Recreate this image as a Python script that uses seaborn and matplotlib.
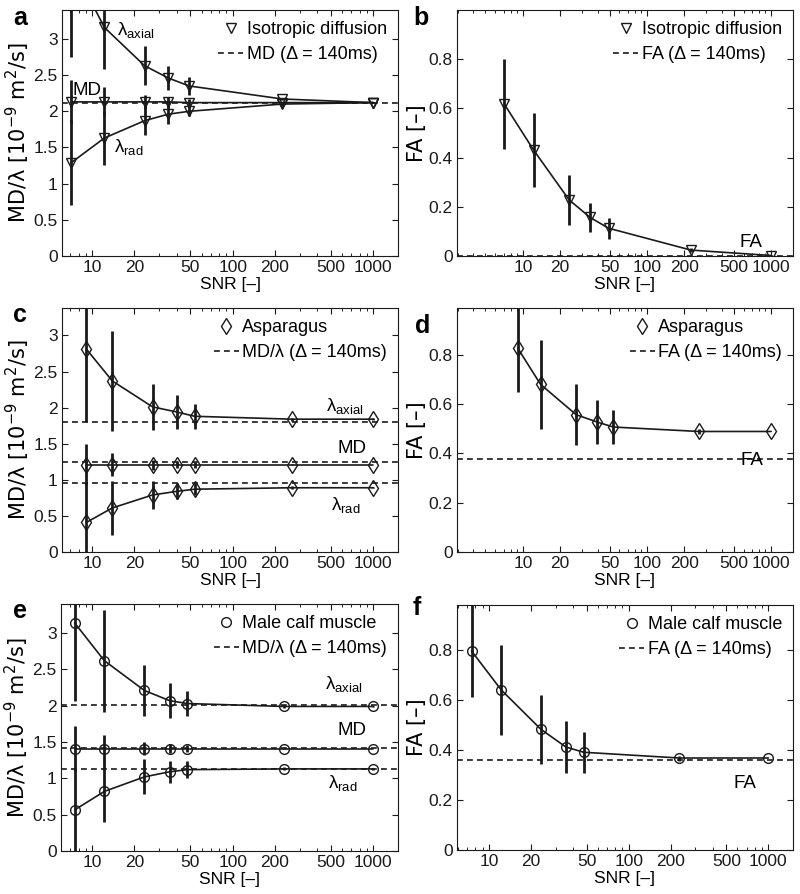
import numpy as np
import pandas as pd
import matplotlib
matplotlib.use("Agg")
import matplotlib.pyplot as plt
from matplotlib.lines import Line2D
from matplotlib.ticker import FixedLocator, FixedFormatter, LogLocator, NullFormatter, FormatStrFormatter
import seaborn as sns

# ---------------- data ----------------
snr_iso = [7.1, 12.2, 23.6, 34.8, 49, 226, 1000]
snr_asp = [9.1, 13.9, 26.9, 39.9, 53.6, 263, 1000]
snr_calf = [7.5, 12.2, 23.5, 35.5, 47.5, 230, 1000]

# isotropic diffusion (panel a, b)
iso_axial = [4.05, 3.16, 2.63, 2.46, 2.35, 2.17, 2.12]
iso_axial_sd = [1.30, 0.58, 0.27, 0.17, 0.12, 0.02, 0.01]
iso_md = [2.13, 2.13, 2.13, 2.13, 2.12, 2.12, 2.12]
iso_md_sd = [0.30, 0.20, 0.10, 0.07, 0.05, 0.01, 0.0]
iso_rad = [1.29, 1.63, 1.87, 1.96, 2.00, 2.10, 2.12]
iso_rad_sd = [0.59, 0.37, 0.20, 0.13, 0.07, 0.02, 0.01]
iso_ref_md = [2.12]
iso_fa = [0.617, 0.431, 0.228, 0.157, 0.113, 0.024, 0.002]
iso_fa_sd = [0.183, 0.150, 0.100, 0.060, 0.043, 0.008, 0.0]
iso_ref_fa = [0.0]

# asparagus (panel c, d)
asp_axial = [2.81, 2.37, 2.01, 1.94, 1.88, 1.84, 1.84]
asp_axial_sd = [1.01, 0.69, 0.32, 0.23, 0.17, 0.02, 0.01]
asp_md = [1.21, 1.21, 1.21, 1.21, 1.21, 1.21, 1.21]
asp_md_sd = [0.28, 0.16, 0.07, 0.05, 0.04, 0.01, 0.0]
asp_rad = [0.41, 0.61, 0.79, 0.84, 0.87, 0.89, 0.89]
asp_rad_sd = [0.56, 0.37, 0.20, 0.11, 0.08, 0.02, 0.01]
asp_ref = [1.80, 1.24, 0.955]
asp_fa = [0.827, 0.68, 0.557, 0.527, 0.507, 0.489, 0.489]
asp_fa_sd = [0.177, 0.18, 0.124, 0.09, 0.07, 0.01, 0.0]
asp_ref_fa = [0.378]

# male calf muscle (panel e, f)
calf_axial = [3.14, 2.62, 2.21, 2.07, 2.03, 1.99, 1.99]
calf_axial_sd = [1.08, 0.70, 0.35, 0.24, 0.17, 0.02, 0.01]
calf_md = [1.41, 1.41, 1.41, 1.41, 1.41, 1.41, 1.41]
calf_md_sd = [0.31, 0.19, 0.09, 0.06, 0.05, 0.01, 0.0]
calf_rad = [0.565, 0.82, 1.02, 1.09, 1.12, 1.13, 1.13]
calf_rad_sd = [0.56, 0.42, 0.24, 0.15, 0.12, 0.02, 0.01]
calf_ref = [2.01, 1.42, 1.135]
calf_fa = [0.796, 0.641, 0.483, 0.412, 0.391, 0.368, 0.368]
calf_fa_sd = [0.185, 0.18, 0.138, 0.105, 0.083, 0.01, 0.0]
calf_ref_fa = [0.362]

xticks = [10, 20, 50, 100, 200, 500, 1000]
xtick_labels = ["10", "20", "50", "100", "200", "500", "1000"]

# ---------------- style ----------------
sns.set_theme(style="ticks")
plt.rcParams["font.family"] = ["Liberation Sans", "DejaVu Sans"]
plt.rcParams["mathtext.fontset"] = "custom"
plt.rcParams["mathtext.rm"] = "Liberation Sans"
plt.rcParams["mathtext.it"] = "Liberation Sans:italic"
plt.rcParams["mathtext.default"] = "regular"
for key in ["text.color", "axes.labelcolor", "xtick.color", "ytick.color",
            "axes.edgecolor"]:
    plt.rcParams[key] = "black"
FS = 12.5
LFS = 13
YFS = 15

fig = plt.figure(figsize=(8.0, 8.94), dpi=100)
W, H = 800.0, 894.0


def add_axes(l, r, t, b):
    return fig.add_axes([l / W, 1 - b / H, (r - l) / W, (b - t) / H])


axA = add_axes(62, 398, 10, 256)
axB = add_axes(457, 793, 10, 256)
axC = add_axes(62, 398, 308, 552)
axD = add_axes(457, 793, 308, 552)
axE = add_axes(61, 398, 604, 851)
axF = add_axes(457, 793, 605, 850)

DASH = (0, (3.5, 2.5))


def draw_series(ax, x, y, sd, marker, ms):
    y = np.asarray(y)
    sd = np.asarray(sd)
    ax.vlines(x, y - sd, y + sd, colors="k", linewidth=2.0, zorder=2)
    sns.lineplot(x=x, y=y, ax=ax, color="k", linewidth=1.2, marker=marker,
                 markersize=ms, markerfacecolor="none", markeredgecolor="k",
                 markeredgewidth=1.0, zorder=3)


def style_axes(ax, xlim, ylim, yticks, ylabel):
    ax.set_xscale("log")
    ax.set_xlim(*xlim)
    ax.set_ylim(*ylim)
    ax.xaxis.set_major_locator(FixedLocator(xticks))
    ax.xaxis.set_major_formatter(FixedFormatter(xtick_labels))
    ax.xaxis.set_minor_locator(LogLocator(base=10, subs=np.arange(2, 10)))
    ax.xaxis.set_minor_formatter(NullFormatter())
    ax.set_yticks(yticks)
    ax.yaxis.set_major_formatter(FormatStrFormatter("%g"))
    ax.tick_params(axis="both", which="major", direction="in", length=4,
                   width=0.8, top=True, right=True, labelsize=FS, pad=3,
                   colors="k")
    ax.tick_params(axis="both", which="minor", direction="in", length=2,
                   width=0.6, top=True, right=True)
    for s in ax.spines.values():
        s.set_linewidth(0.8)
        s.set_color("k")
        s.set_visible(True)
    ax.set_xlabel("SNR [–]", fontsize=FS, labelpad=1)
    ax.set_ylabel(ylabel, fontsize=YFS, labelpad=1,
                  family=["DejaVu Sans"])


def legend(ax, marker, ms, name, refname):
    h1 = Line2D([], [], marker=marker, ls="none", markersize=ms,
                markerfacecolor="none", markeredgecolor="k", markeredgewidth=1.0)
    h2 = Line2D([], [], color="k", lw=1.2, ls=DASH)
    ax.legend([h1, h2], [name, refname], loc="upper right", frameon=False,
              fontsize=LFS, handlelength=1.4, handletextpad=0.2,
              labelspacing=0.45, borderaxespad=0.4, borderpad=0.2)


ylab_md = "MD/λ [10$^{-9}$ m$^{2}$/s]"
ylab_fa = "FA [–]"
md_ticks = [0, 0.5, 1, 1.5, 2, 2.5, 3]
fa_ticks = [0, 0.2, 0.4, 0.6, 0.8]
lam_ax = "λ$_{\\mathrm{axial}}$"
lam_rad = "λ$_{\\mathrm{rad}}$"
TFS = 13.5

# ---- panel a ----
ax = axA
for v in iso_ref_md:
    ax.axhline(v, color="k", lw=1.2, ls=DASH, zorder=1)
draw_series(ax, snr_iso, iso_axial, iso_axial_sd, "v", 7)
draw_series(ax, snr_iso, iso_md, iso_md_sd, "v", 7)
draw_series(ax, snr_iso, iso_rad, iso_rad_sd, "v", 7)
style_axes(ax, (6.1, 1500), (0, 3.4), md_ticks, ylab_md)
ax.text(15.0, 3.06, lam_ax, fontsize=TFS, va="baseline")
ax.text(7.3, 2.23, "MD", fontsize=TFS, va="baseline")
ax.text(14.3, 1.44, lam_rad, fontsize=TFS, va="baseline")
legend(ax, "v", 7, "Isotropic diffusion", "MD (Δ = 140ms)")

# ---- panel b ----
ax = axB
for v in iso_ref_fa:
    ax.axhline(v, color="k", lw=1.2, ls=DASH, zorder=1)
draw_series(ax, snr_iso, iso_fa, iso_fa_sd, "v", 7)
style_axes(ax, (2.95, 1500), (0, 1.0), fa_ticks, ylab_fa)
ax.text(560, 0.038, "FA", fontsize=TFS, va="baseline")
legend(ax, "v", 7, "Isotropic diffusion", "FA (Δ = 140ms)")

# ---- panel c ----
ax = axC
for v in asp_ref:
    ax.axhline(v, color="k", lw=1.2, ls=DASH, zorder=1)
draw_series(ax, snr_asp, asp_axial, asp_axial_sd, "d", 8)
draw_series(ax, snr_asp, asp_md, asp_md_sd, "d", 8)
draw_series(ax, snr_asp, asp_rad, asp_rad_sd, "d", 8)
style_axes(ax, (6.1, 1500), (0, 3.38), md_ticks, ylab_md)
ax.text(460, 1.96, lam_ax, fontsize=TFS, va="baseline")
ax.text(557, 1.365, "MD", fontsize=TFS, va="baseline")
ax.text(500, 0.58, lam_rad, fontsize=TFS, va="baseline")
legend(ax, "d", 8, "Asparagus", "MD/λ (Δ = 140ms)")

# ---- panel d ----
ax = axD
for v in asp_ref_fa:
    ax.axhline(v, color="k", lw=1.2, ls=DASH, zorder=1)
draw_series(ax, snr_asp, asp_fa, asp_fa_sd, "d", 8)
style_axes(ax, (2.95, 1500), (0, 0.99), fa_ticks, ylab_fa)
ax.text(565, 0.354, "FA", fontsize=TFS, va="baseline")
legend(ax, "d", 8, "Asparagus", "FA (Δ = 140ms)")

# ---- panel e ----
ax = axE
for v in calf_ref:
    ax.axhline(v, color="k", lw=1.2, ls=DASH, zorder=1)
draw_series(ax, snr_calf, calf_axial, calf_axial_sd, "o", 7)
draw_series(ax, snr_calf, calf_md, calf_md_sd, "o", 7)
draw_series(ax, snr_calf, calf_rad, calf_rad_sd, "o", 7)
style_axes(ax, (6.0, 1500), (0, 3.4), md_ticks, ylab_md)
ax.text(456, 2.23, lam_ax, fontsize=TFS, va="baseline")
ax.text(557, 1.6, "MD", fontsize=TFS, va="baseline")
ax.text(480, 0.87, lam_rad, fontsize=TFS, va="baseline")
legend(ax, "o", 7, "Male calf muscle", "MD/λ (Δ = 140ms)")

# ---- panel f ----
ax = axF
for v in calf_ref_fa:
    ax.axhline(v, color="k", lw=1.2, ls=DASH, zorder=1)
draw_series(ax, snr_calf, calf_fa, calf_fa_sd, "o", 7)
style_axes(ax, (5.9, 1500), (0, 0.98), fa_ticks, ylab_fa)
ax.text(558, 0.247, "FA", fontsize=TFS, va="baseline")
legend(ax, "o", 7, "Male calf muscle", "FA (Δ = 140ms)")

# panel letters
for letter, px, py in [("a", 13, 25), ("b", 413, 25), ("c", 13, 322),
                       ("d", 415, 333), ("e", 13, 618), ("f", 413, 615)]:
    fig.text(px / W, 1 - py / H, letter, fontsize=18, fontweight="bold",
             va="baseline", ha="left", color="black")

fig.savefig("out.png", dpi=100, facecolor="white")
